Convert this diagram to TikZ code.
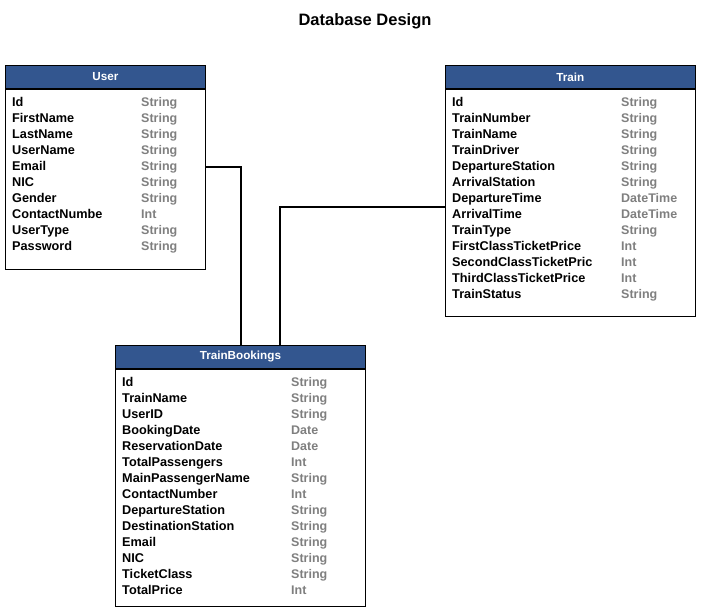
\documentclass[tikz,border=0pt]{standalone}
\usepackage{fontspec}
\setmainfont{Liberation Sans}
\definecolor{hdrblue}{HTML}{33568F}
\definecolor{typegray}{HTML}{7F7F7F}
\begin{document}
\begin{tikzpicture}[x=1pt,y=-1pt,
  hdr/.style={draw=black, line width=0.8pt, fill=hdrblue, text=white, font=\bfseries\fontsize{11.7}{13}\selectfont, anchor=north west, inner sep=0pt},
  tbody/.style={draw=black, line width=0.8pt, fill=white, anchor=north west, inner sep=0pt},
  fname/.style={anchor=base west, inner sep=0pt, font=\bfseries\fontsize{12.7}{14}\selectfont},
  ftype/.style={anchor=base west, inner sep=0pt, text=typegray, font=\bfseries\fontsize{12.5}{14}\selectfont},
  title/.style={anchor=base, font=\bfseries\fontsize{16.5}{19}\selectfont, inner sep=0pt},
  link/.style={draw=black, line width=2pt}]
\useasboundingbox[fill=white] (0,0) rectangle (701,614);

\node[title] (ttl) at (365,25) {Database Design};

% User table
\node[hdr, minimum width=200, minimum height=23] (userh) at (5,65) {User};
\node[tbody, minimum width=200, minimum height=180] (userb) at (userh.south west) {};
\foreach \n/\t [count=\i from 0] in {Id/String, FirstName/String, LastName/String, UserName/String, Email/String, NIC/String, Gender/String, ContactNumbe/Int, UserType/String, Password/String}{
  \node[fname] (un\i) at (12,{106.5+16*\i}) {\n};
  \node[ftype] (ut\i) at (141,{106.5+16*\i}) {\t};
}

% Train table
\node[hdr, minimum width=250, minimum height=23] (trainh) at (445,65) {Train};
\node[tbody, minimum width=250, minimum height=227] (trainb) at (trainh.south west) {};
\foreach \n/\t [count=\i from 0] in {Id/String, TrainNumber/String, TrainName/String, TrainDriver/String, DepartureStation/String, ArrivalStation/String, DepartureTime/DateTime, ArrivalTime/DateTime, TrainType/String, FirstClassTicketPrice/Int, SecondClassTicketPric/Int, ThirdClassTicketPrice/Int, TrainStatus/String}{
  \node[fname] (tn\i) at (452,{106.5+16*\i}) {\n};
  \node[ftype] (tt\i) at (621,{106.5+16*\i}) {\t};
}

% TrainBookings table
\node[hdr, minimum width=250, minimum height=23] (bookh) at (115,345) {TrainBookings};
\node[tbody, minimum width=250, minimum height=237] (bookb) at (bookh.south west) {};
\foreach \n/\t [count=\i from 0] in {Id/String, TrainName/String, UserID/String, BookingDate/Date, ReservationDate/Date, TotalPassengers/Int, MainPassengerName/String, ContactNumber/Int, DepartureStation/String, DestinationStation/String, Email/String, NIC/String, TicketClass/String, TotalPrice/Int}{
  \node[fname] (bn\i) at (122,{386.5+16*\i}) {\n};
  \node[ftype] (bt\i) at (291,{386.5+16*\i}) {\t};
}

% connectors
\coordinate (ua) at (205,167);
\coordinate (ub) at (240.5,345);
\coordinate (ta) at (445,207);
\coordinate (tb) at (280,345);
\draw[link] (ua) -| (ub);
\draw[link] (ta) -| (tb);
\end{tikzpicture}
\end{document}
